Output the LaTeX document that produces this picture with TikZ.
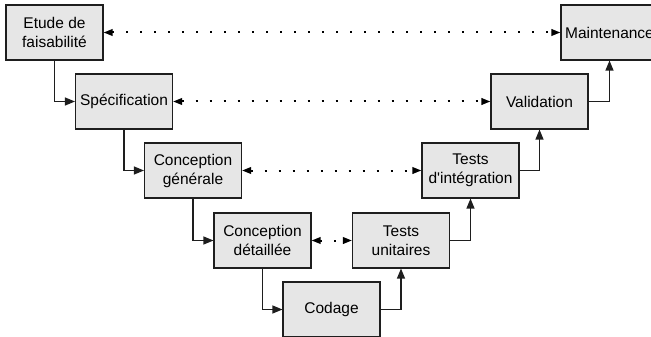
\documentclass[tikz,border=0pt]{standalone}
\usepackage{fontspec}
\setmainfont{Liberation Sans}
\usetikzlibrary{arrows.meta}
\definecolor{boxfill}{RGB}{230,230,230}
\definecolor{lineclr}{RGB}{30,30,30}
\begin{document}
\begin{tikzpicture}[x=1pt,y=-1pt,
  stage/.style={draw=lineclr, fill=boxfill, line width=1.1pt, minimum width=97pt, minimum height=55pt, inner sep=0pt, align=center, font=\fontsize{15.5}{19}\selectfont},
  flow/.style={draw=lineclr, line width=1.2pt, -{Triangle[length=10pt,width=8pt]}},
  link/.style={draw=black, line width=2pt, dash pattern=on 2pt off 12pt, {Triangle[length=9pt,width=6.5pt]}-{Triangle[length=9pt,width=6.5pt]}}
]
\useasboundingbox (0,0) rectangle (651,337);
\clip (0,0) rectangle (651,337);
\node[stage] (n1) at (54.5,32.5) {Etude de\\faisabilité};
\node[stage] (n2) at (124,101.5) {Spécification};
\node[stage] (n3) at (193,170.5) {Conception\\générale};
\node[stage] (n4) at (262.5,240.5) {Conception\\détaillée};
\node[stage] (n5) at (331.5,309.5) {Codage};
\node[stage] (n6) at (401,240.5) {Tests\\unitaires};
\node[stage] (n7) at (470.5,170.5) {Tests\\d\textquotesingle intégration};
\node[stage] (n8) at (539.5,101.5) {Validation};
\node[stage] (n9) at (609.5,32.5) {Maintenance};
\draw[flow] (n1.south) |- (n2.west);
\draw[flow] (n2.south) |- (n3.west);
\draw[flow] (n3.south) |- (n4.west);
\draw[flow] (n4.south) |- (n5.west);
\draw[flow] (n5.east) -| (n6.south);
\draw[flow] (n6.east) -| (n7.south);
\draw[flow] (n7.east) -| (n8.south);
\draw[flow] (n8.east) -| (n9.south);
\draw[link] (n1.east) -- (n9.west);
\draw[link] (n2.east) -- (n8.west);
\draw[link] (n3.east) -- (n7.west);
\draw[link] (n4.east) -- (n6.west);
\end{tikzpicture}
\end{document}
